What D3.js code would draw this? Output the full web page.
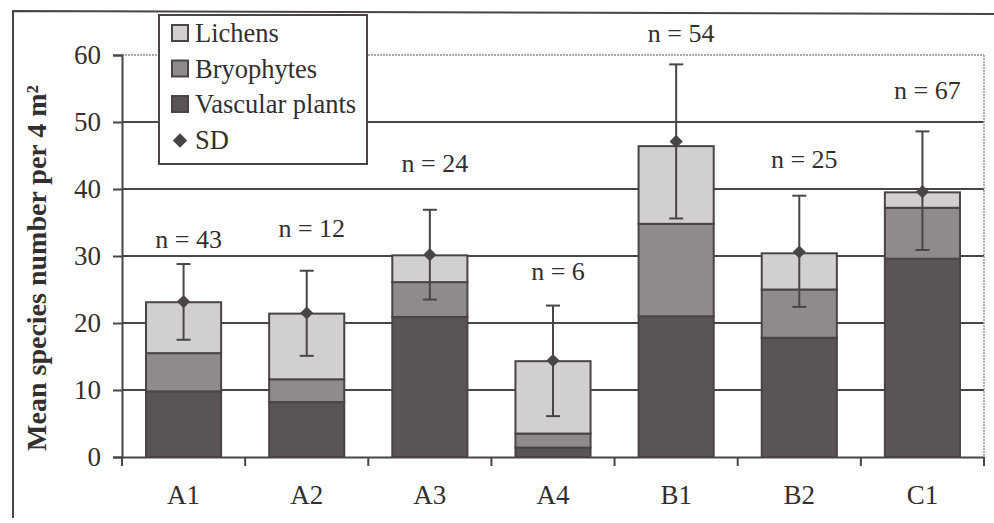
<!DOCTYPE html>
<html lang="en">
<head>
    <meta charset="UTF-8">
    <title>Mean species number per 4 m²</title>
    <script src="https://d3js.org/d3.v7.min.js"></script>
    <style>
        body { margin: 0; background: #fff; }
        text { font-family: "Liberation Serif", "Times New Roman", serif; fill: #332e30; }
    </style>
</head>
<body>
    <div id="chart"></div>

    <script>
        // data
        const categories = ["A1", "A2", "A3", "A4", "B1", "B2", "C1"];
        const vascular   = [9.8, 8.2, 20.9, 1.4, 21.0, 17.8, 29.6];
        const bryophytes = [5.7, 3.4, 5.2, 2.1, 13.8, 7.2, 7.6];
        const lichens    = [7.6, 9.8, 4.0, 10.8, 11.6, 5.4, 2.3];
        const sdMean     = [23.2, 21.5, 30.2, 14.4, 47.1, 30.6, 39.6];
        const sdHigh     = [28.8, 27.8, 36.9, 22.6, 58.6, 39.0, 48.6];
        const sdLow      = [17.5, 15.1, 23.5, 6.1, 35.6, 22.4, 30.9];
        const nLabels    = ["n = 43", "n = 12", "n = 24", "n = 6", "n = 54", "n = 25", "n = 67"];
        const nLabelAt   = [31.2, 32.8, 42.5, 26.4, 62.0, 43.1, 53.4];
        const yTicks     = [0, 10, 20, 30, 40, 50, 60];

        const width = 994, height = 523;
        const margin = { top: 55, right: 10, bottom: 66, left: 122 };
        const ink = "#4a4447";

        const svg = d3.select("#chart")
            .append("svg")
            .attr("width", width)
            .attr("height", height);

        // scan frame
        svg.append("path")
            .attr("d", "M13,518 L13,11 L994,14")
            .attr("fill", "none")
            .attr("stroke", ink)
            .attr("stroke-width", 2);

        const x = d3.scaleBand()
            .domain(categories)
            .range([margin.left, width - margin.right])
            .paddingInner(0.39)
            .paddingOuter(0.195);

        const y = d3.scaleLinear()
            .domain([0, 60])
            .range([height - margin.bottom, margin.top]);

        // stacked table
        const rows = categories.map((c, i) => ({
            cat: c, vascular: vascular[i], bryophytes: bryophytes[i], lichens: lichens[i]
        }));
        const keys = ["vascular", "bryophytes", "lichens"];
        const colors = { vascular: "#5a5457", bryophytes: "#8f8b8d", lichens: "#d2cfd0" };
        const stack = d3.stack().keys(keys)(rows);

        // grid
        svg.append("g")
            .selectAll("line")
            .data(yTicks.filter(t => t > 0))
            .join("line")
            .attr("x1", margin.left)
            .attr("x2", width - margin.right)
            .attr("y1", d => y(d))
            .attr("y2", d => y(d))
            .attr("stroke", d => d === 60 ? "#8e8a8c" : ink)
            .attr("stroke-dasharray", d => d === 60 ? "2,1" : null)
            .attr("stroke-width", d => d === 60 ? 1.5 : 2);

        // right edge of plot area
        svg.append("line")
            .attr("x1", width - margin.right).attr("x2", width - margin.right)
            .attr("y1", y(60)).attr("y2", y(0))
            .attr("stroke", "#9a9698")
            .attr("stroke-dasharray", "2,1")
            .attr("stroke-width", 1.5);

        // bars
        svg.append("g")
            .selectAll("g")
            .data(stack)
            .join("g")
            .attr("fill", d => colors[d.key])
            .selectAll("rect")
            .data(d => d)
            .join("rect")
            .attr("x", d => x(d.data.cat))
            .attr("y", d => y(d[1]))
            .attr("width", x.bandwidth())
            .attr("height", d => y(d[0]) - y(d[1]))
            .attr("stroke", ink)
            .attr("stroke-width", 2);

        // SD whiskers
        const cx = i => x(categories[i]) + x.bandwidth() / 2;
        const sd = svg.append("g").attr("stroke", ink).attr("stroke-width", 2);
        sd.selectAll(".whisker")
            .data(categories)
            .join("line")
            .attr("x1", (d, i) => cx(i)).attr("x2", (d, i) => cx(i))
            .attr("y1", (d, i) => y(sdLow[i])).attr("y2", (d, i) => y(sdHigh[i]));
        sd.selectAll(".capHi")
            .data(categories)
            .join("line")
            .attr("x1", (d, i) => cx(i) - 7).attr("x2", (d, i) => cx(i) + 7)
            .attr("y1", (d, i) => y(sdHigh[i])).attr("y2", (d, i) => y(sdHigh[i]));
        sd.selectAll(".capLo")
            .data(categories)
            .join("line")
            .attr("x1", (d, i) => cx(i) - 7).attr("x2", (d, i) => cx(i) + 7)
            .attr("y1", (d, i) => y(sdLow[i])).attr("y2", (d, i) => y(sdLow[i]));

        const diamond = d3.symbol().type(d3.symbolDiamond2).size(110);
        svg.append("g")
            .selectAll("path")
            .data(sdMean)
            .join("path")
            .attr("d", diamond)
            .attr("transform", (d, i) => `translate(${cx(i)},${y(d)})`)
            .attr("fill", ink);

        // n labels
        svg.append("g")
            .selectAll("text")
            .data(nLabels)
            .join("text")
            .attr("x", (d, i) => cx(i) + 5)
            .attr("y", (d, i) => y(nLabelAt[i]))
            .attr("text-anchor", "middle")
            .attr("font-size", 26)
            .text(d => d);

        // y axis
        const yAxis = svg.append("g")
            .attr("transform", `translate(${margin.left},0)`)
            .call(d3.axisLeft(y).tickValues(yTicks).tickSize(9).tickPadding(12));
        yAxis.selectAll("line, path").attr("stroke", ink).attr("stroke-width", 2);
        yAxis.selectAll("text").attr("font-size", 27).attr("font-family", "Liberation Serif").attr("fill", "#332e30");

        // x axis: ticks at category boundaries
        const xAxis = svg.append("g")
            .attr("transform", `translate(0,${y(0)})`)
            .call(d3.axisBottom(x).tickSize(0).tickPadding(28));
        xAxis.select(".domain").attr("stroke", ink).attr("stroke-width", 2);
        xAxis.selectAll("text").attr("font-size", 27).attr("font-family", "Liberation Serif").attr("fill", "#332e30");
        const step = x.step();
        xAxis.selectAll(".bound")
            .data(d3.range(categories.length + 1))
            .join("line")
            .attr("x1", i => margin.left + i * step)
            .attr("x2", i => margin.left + i * step)
            .attr("y1", 0).attr("y2", 9)
            .attr("stroke", ink).attr("stroke-width", 2);

        // y title
        svg.append("text")
            .attr("transform", `translate(46,${(y(0) + y(60)) / 2 + 12}) rotate(-90)`)
            .attr("text-anchor", "middle")
            .attr("font-size", 28)
            .attr("font-weight", "bold")
            .text("Mean species number per 4 m²");

        // legend
        const legend = svg.append("g").attr("transform", "translate(159,15)");
        legend.append("rect")
            .attr("width", 208).attr("height", 149)
            .attr("fill", "#fff").attr("stroke", ink).attr("stroke-width", 2);
        const items = [
            { label: "Lichens", key: "lichens" },
            { label: "Bryophytes", key: "bryophytes" },
            { label: "Vascular plants", key: "vascular" },
            { label: "SD", key: null }
        ];
        const li = legend.selectAll(".item")
            .data(items)
            .join("g")
            .attr("transform", (d, i) => `translate(0,${27 + i * 35.5})`);
        li.filter(d => d.key)
            .append("rect")
            .attr("x", 13).attr("y", -17)
            .attr("width", 16).attr("height", 16)
            .attr("fill", d => colors[d.key])
            .attr("stroke", ink).attr("stroke-width", 2);
        li.filter(d => !d.key)
            .append("path")
            .attr("d", d3.symbol().type(d3.symbolDiamond2).size(130))
            .attr("transform", "translate(21,-8)")
            .attr("fill", ink);
        li.append("text")
            .attr("x", 36).attr("y", 0)
            .attr("font-size", 26.5)
            .text(d => d.label);
    </script>
</body>
</html>
